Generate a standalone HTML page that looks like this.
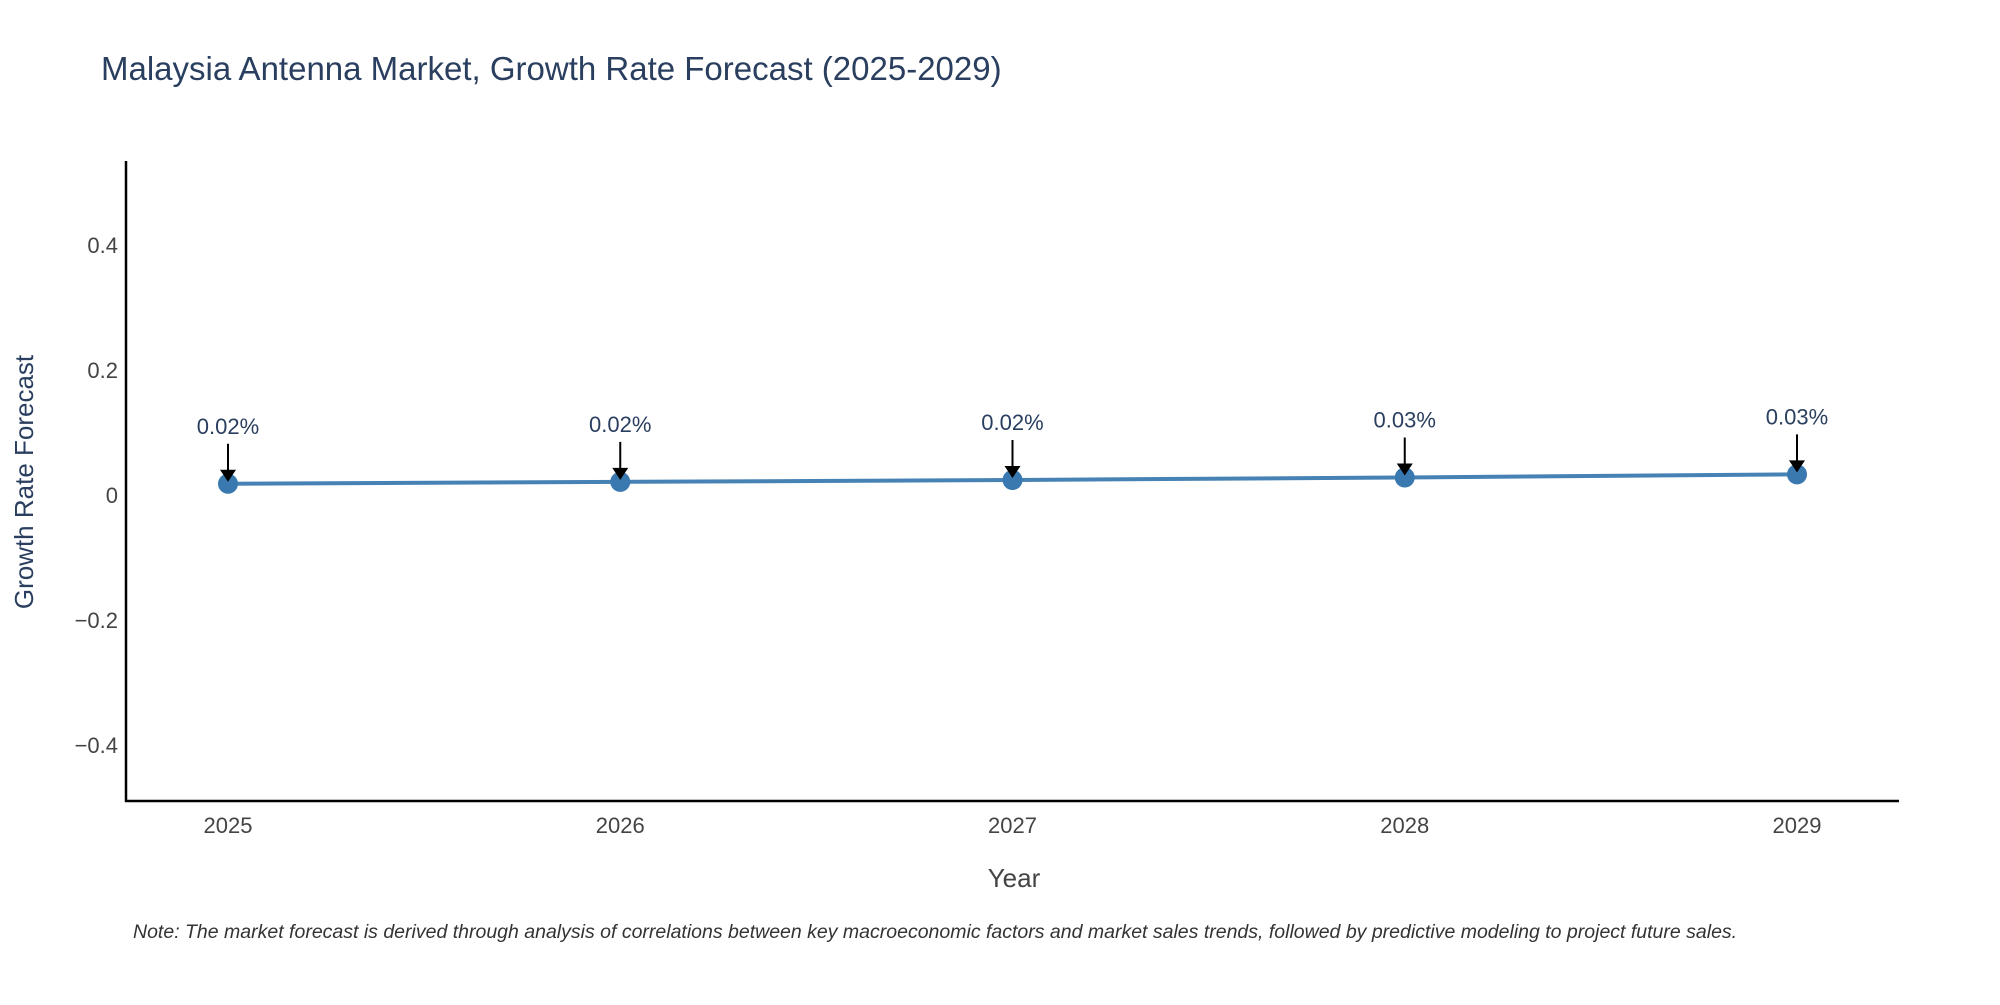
<!DOCTYPE html>
<html><head><meta charset="utf-8"><style>
body{margin:0;background:#fff;}
svg text{font-family:"Liberation Sans",sans-serif;}
</style></head><body>
<svg id="chart" width="2000" height="1000" xmlns="http://www.w3.org/2000/svg">
<text x="101" y="80" font-size="33" fill="#2a3f5f">Malaysia Antenna Market, Growth Rate Forecast (2025-2029)</text>
<g id="yticks"></g><g id="xticks"></g>
<line x1="126" y1="161" x2="126" y2="802" stroke="#000" stroke-width="2.5"/>
<line x1="125" y1="801" x2="1899" y2="801" stroke="#000" stroke-width="2.5"/>
<g id="series"></g>
<text x="1014" y="887" font-size="26" fill="#444" text-anchor="middle">Year</text>
<text transform="translate(33,482) rotate(-90)" font-size="26" fill="#2a3f5f" text-anchor="middle">Growth Rate Forecast</text>
<text x="133" y="938" font-size="19.5" font-style="italic" fill="#333">Note: The market forecast is derived through analysis of correlations between key macroeconomic factors and market sales trends, followed by predictive modeling to project future sales.</text>
</svg>
<script>
const years=[2025,2026,2027,2028,2029];
const values=[0.018,0.021,0.024,0.028,0.033];
const labels=["0.02%","0.02%","0.02%","0.03%","0.03%"];
const yTicks=[0.4,0.2,0,-0.2,-0.4];
const yTickLabels=["0.4","0.2","0","\u22120.2","\u22120.4"];
const NS="http://www.w3.org/2000/svg";
function xs(y){return 228+(y-2025)*392.25;}
function ys(v){return 495-v*625;}
function mk(t,a,p){const e=document.createElementNS(NS,t);for(const k in a)e.setAttribute(k,a[k]);p.appendChild(e);return e;}
const yt=document.getElementById('yticks');
yTicks.forEach((v,i)=>{const t=mk('text',{x:118,y:ys(v)+8,'font-size':22,fill:'#444','text-anchor':'end'},yt);


t.textContent=yTickLabels[i];});
const xt=document.getElementById('xticks');
years.forEach(y=>{const t=mk('text',{x:xs(y),y:833,'font-size':22,fill:'#444','text-anchor':'middle'},xt);


t.textContent=y;});
const s=document.getElementById('series');
const line=mk('polyline',{points:years.map((y,i)=>xs(y)+','+ys(values[i])).join(' '),fill:'none',stroke:'#4682b4','stroke-width':4},s);


years.forEach((y,i)=>{const cx=xs(y),cy=ys(values[i]);
const c=mk('circle',{cx:cx,cy:cy,r:10,fill:'#3a78b0'},s);


const a=mk('line',{x1:cx,y1:cy-40,x2:cx,y2:cy-12,stroke:'#000','stroke-width':2},s);


const h=mk('polygon',{points:`${cx-8},${cy-14} ${cx+8},${cy-14} ${cx},${cy-2}`,fill:'#000'},s);


const t=mk('text',{x:cx,y:cy-50,'font-size':22,fill:'#2a3f5f','text-anchor':'middle'},s);


t.textContent=labels[i];});
</script>
</body></html>
